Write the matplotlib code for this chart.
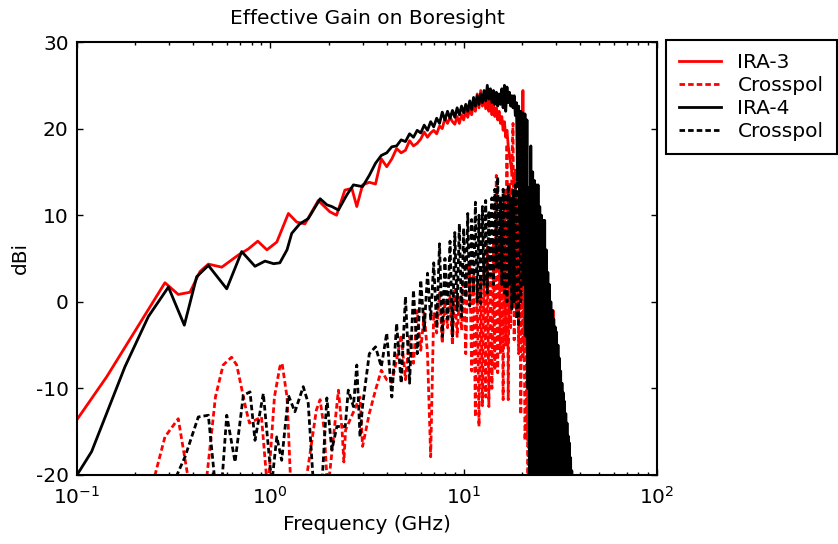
import numpy as np
import matplotlib
matplotlib.use("Agg")
import matplotlib.pyplot as plt
from matplotlib.ticker import LogLocator, FixedLocator

plt.rcParams['font.family'] = ['DejaVu Sans']
plt.rcParams['mathtext.fontset'] = 'dejavusans'
plt.rcParams['mathtext.default'] = 'regular'
plt.rcParams['axes.unicode_minus'] = False

# ---------------- data (frequency in GHz, gain in dBi) ----------------
# low-frequency part, individual samples
ira3_lo_f = [0.1, 0.1425, 0.285, 0.334, 0.384, 0.433, 0.478, 0.561, 0.683, 0.769,
             0.861, 0.96, 1.08, 1.24, 1.37, 1.51, 1.77, 2.03, 2.2, 2.43, 2.64, 2.8]
ira3_lo_db = [-13.6, -8.65, 2.2, 0.85, 1.1, 3.5, 4.35, 4.0, 5.4, 6.1,
              7.0, 6.0, 6.9, 10.2, 9.2, 9.0, 11.7, 10.4, 10.0, 12.9, 13.1, 11.0]

ira4_lo_f = [0.1, 0.119, 0.177, 0.234, 0.297, 0.359, 0.416, 0.478, 0.595, 0.711,
             0.833, 0.939, 1.04, 1.12, 1.22, 1.29, 1.42, 1.57, 1.81, 1.96,
             2.08, 2.25, 2.48, 2.69]
ira4_lo_db = [-20.0, -17.3, -7.5, -1.7, 1.7, -2.7, 2.9, 4.2, 1.5, 5.8,
              4.1, 4.7, 4.4, 4.5, 6.0, 7.9, 9.0, 9.6, 11.9, 11.2,
              11.0, 10.6, 12.3, 13.5]

ira3x_lo_f = [0.24, 0.285, 0.334, 0.40, 0.45, 0.52, 0.57, 0.63, 0.67, 0.75,
              0.78, 0.90, 0.97, 1.05, 1.12, 1.15, 1.22, 1.28, 1.50, 1.73,
              1.81, 1.90, 1.98, 2.25, 2.35, 2.40, 2.45, 2.91]
ira3x_lo_db = [-22, -15.6, -13.5, -24, -24, -11, -7.3, -6.4, -7.3, -12.5,
               -14.0, -13.3, -22, -11, -7.5, -7.1, -11, -22, -22, -12.5,
               -11.3, -14.8, -22, -10.2, -14.8, -18.5, -14.8, -11.0]

ira4x_lo_f = [0.30, 0.362, 0.424, 0.478, 0.518, 0.561, 0.595, 0.657, 0.725, 0.785,
              0.833, 0.92, 1.017, 1.08, 1.145, 1.24, 1.34, 1.48, 1.57, 1.67,
              1.85, 1.96, 2.08, 2.21, 2.44, 2.53, 2.69, 2.80, 2.91]
ira4x_lo_db = [-22, -17.9, -13.3, -13.1, -21, -21, -13.1, -18.5, -10.8, -10.4,
               -16.0, -10.6, -21, -15.6, -18.3, -10.8, -12.7, -9.8, -11.7, -21,
               -21, -11.1, -17.1, -14.4, -14.4, -10.2, -12.1, -7.3, -15.6]

# high-frequency part: uniform 0.25 GHz sampling starting at 3 GHz
HI_START = 3.0
HI_STEP = 0.25

ira3_hi_db = [
    13.5, 13.8, 13.6, 16.5,   15.6, 16.5, 17.7, 17.2,   17.5, 18.6, 18.0, 18.3,
    18.8, 19.6, 19.0, 19.5,   19.8, 19.4, 20.3, 20.0,   21.2, 20.6, 21.3, 20.8,
    20.5, 21.4, 20.6, 21.6,   21.0, 22.0, 21.3, 22.3,   21.6, 23.0, 22.0, 24.0,
    22.4, 24.4, 22.6, 23.8,   22.3, 23.6, 22.0, 23.2,   21.6, 22.8, 21.4, 22.4,
    21.0, 22.0, 20.6, 21.4,   19.8, 20.8, 19.0, 19.8,   18.0, 17.0, 16.0, 15.0,
    14.8, 14.0, 13.2, 12.4,   12.0, 11.0, 10.0, 9.4,    12.0, 24.4, 8.0, 4.0,
    -5.0, 2.0, -16.0, -2.0,   -8.0, -18.0, -6.0, -25.0, -12.0, -22.0, -12.5, -26.0,
    -10.0, -24.0, -8.0, -26.0, -5.3, -28.0, -12.0, -26.0, -15.0, -28.0, -14.0, -30.0,
    -18.0, -30.0, -12.0, -28.0, -9.8, -30.0, -16.0, -30.0, -1.0, -30.0, -18.0, -30.0,
    -22.0, -30.0, -25.0, -30.0]

ira4_hi_db = [
    13.3, 14.6, 16.0, 16.9,   17.2, 17.9, 18.0, 18.7,   18.5, 19.4, 19.0, 19.8,
    19.5, 20.4, 19.8, 20.8,   20.2, 21.2, 20.6, 21.9,   21.0, 22.0, 21.2, 22.1,
    21.3, 22.4, 21.6, 22.6,   21.8, 22.8, 22.0, 23.2,   22.2, 23.6, 22.6, 23.8,
    22.8, 24.0, 23.0, 24.4,   23.2, 25.0, 23.4, 24.6,   23.0, 24.4, 22.8, 24.2,
    22.6, 24.0, 22.8, 24.6,   22.4, 25.0, 22.0, 24.8,   23.0, 24.2, 22.6, 23.8,
    22.4, 23.8, 21.5, 23.0,   14.0, 22.6, 10.0, 22.0,   6.0, 21.8, 2.0, 21.7,
    -4.0, 21.0, -10.0, 13.2,  -25.0, 18.0, -22.0, 15.0, -26.0, 14.0, -24.0, 13.5,
    -28.0, 13.5, -26.0, 11.0, -28.0, 10.0, -27.0, 9.4,  -28.0, 9.4, -28.0, 6.0,
    -28.0, 3.4, -28.0, 2.0,   -28.0, 0.0, -28.0, -1.0,  -28.0, -2.0, -28.0, -2.9,
    -29.0, -3.5, -29.0, -5.0, -29.0, -6.5, -29.0, -8.0, -29.0, -9.4, -29.0, -10.5,
    -30.0, -11.5, -30.0, -12.9, -30.0, -14.0, -30.0, -15.5, -30.0, -16.3, -30.0, -18.0,
    -30.0, -19.5, -30.0, -25.0]

ira3x_hi_db = [
    -16.7, -12.9, -10.2, -7.9, -9.0, -9.3, -6.7, -3.8,  -9.0, -4.0, -7.1, -1.0,
    -5.6, -1.3, -6.0, -17.9,   -1.2, -3.6, 1.0, -4.8,   0.2, -3.0, 0.8, -5.0,
    1.35, -4.0, 0.5, -3.3,     2.5, -6.0, 3.5, 4.4,     -8.0, 3.0, -13.3, 2.0,
    -14.4, 2.9, -12.0, 5.0,    -11.0, 6.3, -12.1, 6.0,  -10.0, 7.1, -7.9, 14.6,
    -8.2, 7.5, -6.0, 10.0,     -11.3, 12.9, -5.0, 18.2, -11.3, 13.7, -3.0, 16.0,
    20.6, -4.4, 15.2, -1.3,    12.0, -6.0, 15.2, -13.0, 8.0, -6.3, 2.0, -16.0,
    -13.3, -5.0, -22.0, -10.0, -25.0, -12.0, -28.0, -15.0, -30.0, -14.0, -30.0, -18.0,
    -30.0, -16.0, -30.0, -22.0, -30.0]

ira4x_hi_db = [
    -12.0, -6.0, -5.2, -7.5,   -3.6, -11.0, -2.5, -9.4,  0.6, -9.4, 1.35, -6.0,
    2.5, -3.3, 3.3, -2.0,      4.5, -3.0, 6.7, -4.0,     5.0, -2.0, 7.0, -4.0,
    8.0, -1.0, 9.0, -1.7,      8.5, 0.5, 10.2, -0.5,     9.5, 1.0, 11.5, 0.0,
    10.0, -0.2, 11.0, 2.0,     11.7, 1.0, 10.5, 3.0,     12.0, 2.0, 13.0, 4.0,
    14.4, 3.7, 12.0, 2.0,      13.0, 1.0, 12.5, 0.0,     13.5, 2.0, 12.0, -1.0,
    12.9, 0.0, 13.5, -2.0,     14.0, -2.9, 15.2, 0.0,    14.0, 2.0, 12.5, 3.0,
    12.0, 2.5, 11.0, -5.0,     10.0, -12.0, 9.0, -20.0,  8.0, -25.0, 7.0, -28.0,
    5.0, -28.0, 4.0, -28.0,    2.0, -28.0, 0.0, -28.0,   -2.0, -30.0, -4.0, -30.0,
    -6.0, -30.0, -8.0, -30.0,  -9.0, -30.0, -10.0, -30.0, -11.0, -30.0, -12.5, -30.0,
    -14.0, -30.0, -15.0, -30.0, -16.0, -30.0, -17.0, -30.0, -18.0, -30.0, -19.0, -30.0,
    -21.0, -30.0]

labels = ["IRA-3", "Crosspol", "IRA-4", "Crosspol"]
title = "Effective Gain on Boresight"
xlabel = "Frequency (GHz)"
ylabel = "dBi"
yticks = [-20, -10, 0, 10, 20, 30]


def series(lo_f, lo_db, hi_db):
    hi_f = HI_START + HI_STEP * np.arange(len(hi_db))
    return (np.concatenate([np.asarray(lo_f, float), hi_f]),
            np.concatenate([np.asarray(lo_db, float), np.asarray(hi_db, float)]))


f3, g3 = series(ira3_lo_f, ira3_lo_db, ira3_hi_db)
f3x, g3x = series(ira3x_lo_f, ira3x_lo_db, ira3x_hi_db)
f4, g4 = series(ira4_lo_f, ira4_lo_db, ira4_hi_db)
f4x, g4x = series(ira4x_lo_f, ira4x_lo_db, ira4x_hi_db)

# ---------------- figure ----------------
W, H = 838, 544
fig = plt.figure(figsize=(W / 100, H / 100), dpi=100)
ax = fig.add_axes([77 / W, 1 - 475 / H, (657 - 77) / W, (475 - 42) / H])

lw = 2.0
dash = (2.0, 1.1)
ax.plot(f3, g3, color='#ff0000', lw=lw, label=labels[0])
ax.plot(f3x, g3x, color='#ff0000', lw=lw, ls=(0, dash), label=labels[1])
ax.plot(f4, g4, color='black', lw=lw, label=labels[2])
ax.plot(f4x, g4x, color='black', lw=lw, ls=(0, dash), label=labels[3])

ax.set_xscale('log')
ax.set_xlim(0.1, 100)
ax.set_ylim(-20, 30)
ax.yaxis.set_major_locator(FixedLocator(yticks))
ax.xaxis.set_major_locator(LogLocator(base=10, numticks=10))
ax.xaxis.set_minor_locator(LogLocator(base=10, subs=np.arange(2, 10), numticks=20))

fs = 14.5
ax.tick_params(which='both', direction='in', top=True, right=True, labelsize=fs, colors='black')
ax.tick_params(which='major', length=4.5, width=1.0)
ax.tick_params(axis='x', which='major', pad=8)
ax.tick_params(axis='y', which='major', pad=6)
ax.tick_params(which='minor', length=2.5, width=1.0)
for s in ax.spines.values():
    s.set_linewidth(1.5)
    s.set_color('black')

ax.set_title(title, fontsize=fs, pad=13)
ax.set_xlabel(xlabel, fontsize=fs, labelpad=5)
ax.set_ylabel(ylabel, fontsize=fs)
ax.yaxis.set_label_coords((30 - 77) / 580, 0.5)

leg = ax.legend(loc='upper left', bbox_to_anchor=(666 / W, 1 - 40 / H),
                bbox_transform=fig.transFigure, borderaxespad=0,
                fontsize=fs, frameon=True, fancybox=False, shadow=False,
                framealpha=1, edgecolor='black', handlelength=2.1,
                handletextpad=0.8, labelspacing=0.2, borderpad=0.65)
leg.get_frame().set_linewidth(1.5)

fig.savefig('out.png', dpi=100)
